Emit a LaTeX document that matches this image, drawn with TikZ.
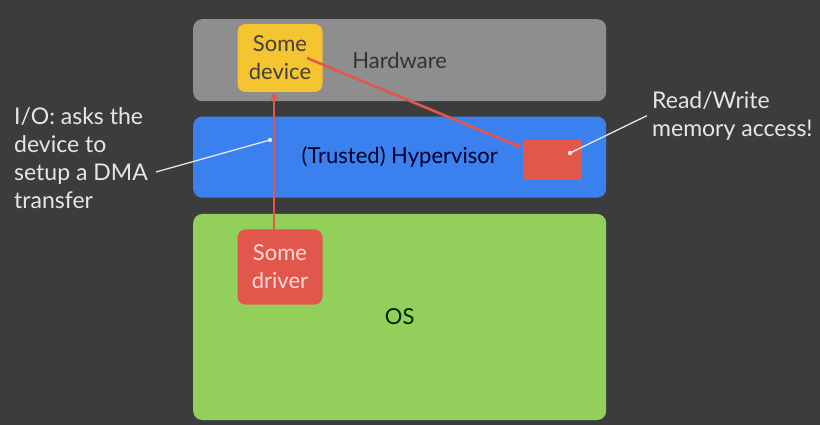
\documentclass[tikz,border=0pt]{standalone}
\usepackage{fontspec}
\setmainfont{Lato}
\usetikzlibrary{positioning}
\definecolor{slide}{HTML}{3C3C3C}
\definecolor{hwgray}{HTML}{8E8E8E}
\definecolor{devyellow}{HTML}{F5C431}
\definecolor{hvblue}{HTML}{3B80EF}
\definecolor{osgreen}{HTML}{92D05B}
\definecolor{alertred}{HTML}{E1574B}
\definecolor{calltext}{HTML}{E6E6E6}
\tikzset{
  layer/.style={
    fill=#1,
    rounded corners=9pt,
    minimum width=413pt,
    inner sep=0pt,
    anchor=north west,
    font=\fontsize{22}{28}\selectfont,
  },
  chip/.style={
    fill=#1,
    rounded corners=8pt,
    minimum width=85pt,
    align=center,
    inner sep=2pt,
    font=\fontsize{22}{28}\selectfont,
  },
  callout/.style={
    text=calltext,
    align=left,
    inner sep=0pt,
    font=\fontsize{23}{28}\selectfont,
  },
  dma arrow/.style={
    draw=alertred,
    line width=2.6pt,
    -stealth,
  },
  pointer/.style={
    draw=calltext,
    line width=1.3pt,
  }
}
\begin{document}
\begin{tikzpicture}[x=1pt, y=-1pt, node distance=16pt]
        \fill [slide] (0,0) rectangle (820,425);
        \useasboundingbox (0,0) rectangle (820,425);

        \node [layer=hwgray, minimum height=82pt, text=black!80] (hw) at (193,19) {Hardware};
        \node [layer=hvblue, minimum height=81pt, text=black!85!blue, below=15pt of hw] (hv) {(Trusted) Hypervisor};
        \node [layer=osgreen, minimum height=206pt, text=black!85!green, below=of hv] (os) {OS};

        \node [chip=devyellow, minimum height=68pt, text=black!85!yellow] (dev) at (280,58) {Some\\device};
        \node [chip=alertred, minimum height=75pt, text=white!85!red] (drv) at (280,267) {Some\\driver};
        \node [fill=alertred, minimum width=59pt, minimum height=40pt, inner sep=0pt] (mem) at (552,160) {};

        \node [callout, anchor=north west] (io) at (14,107) {I/O: asks the\\device to\\setup a DMA\\transfer};
        \node [callout, anchor=north west] (rw) at (652,91) {Read/Write\\memory access!};

        \coordinate (io dot) at (270,140);
        \coordinate (rw dot) at (570,153);
        \coordinate (io end) at (156,172);

        \draw [dma arrow] ([xshift=-6pt]drv.north) -- ([xshift=-6pt]dev.south);
        \draw [dma arrow] ([xshift=27pt]dev.center) -- ([yshift=-8pt]mem.north west);

        \draw [pointer] (io end) -- (io dot);
        \fill [calltext] (io dot) circle (2.2pt);
        \draw [pointer] ([xshift=-5pt]rw.west) -- (rw dot);
        \fill [calltext] (rw dot) circle (2.2pt);
    \end{tikzpicture}
\end{document}
